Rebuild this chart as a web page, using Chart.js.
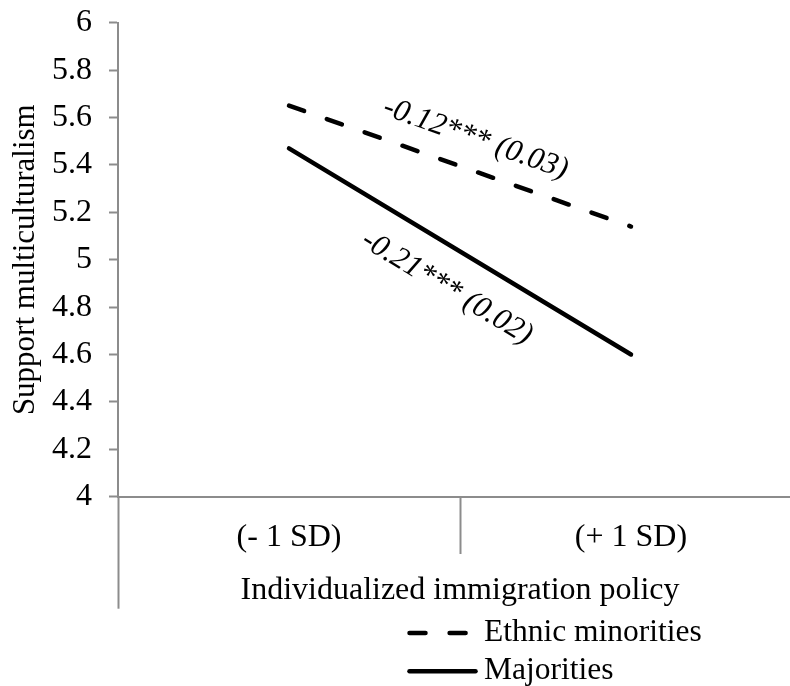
<!DOCTYPE html>
<html>
<head>
<meta charset="utf-8">
<script src="https://cdn.jsdelivr.net/npm/chart.js@4/dist/chart.umd.min.js"></script>
<style>
  html, body { margin: 0; padding: 0; background: #fff; overflow: hidden; }
  #wrap { width: 790px; height: 686px; overflow: hidden; }
  canvas { display: block; }
</style>
</head>
<body>
<div id="wrap"><canvas id="chart" width="810" height="686"></canvas></div>
<script>
// Simple slopes of support for multiculturalism
const categories = ['(- 1 SD)', '(+ 1 SD)'];
const minoritiesValues = [5.65, 5.14];
const majoritiesValues = [5.47, 4.60];
const seriesNames = ['Ethnic minorities', 'Majorities'];
const slopeLabels = ['-0.12*** (0.03)', '-0.21*** (0.02)'];
const yTickLabels = ['4', '4.2', '4.4', '4.6', '4.8', '5', '5.2', '5.4', '5.6', '5.8', '6'];
const yTitle = 'Support multiculturalism';
const xTitle = 'Individualized immigration policy';

const axisGray = '#8c8c8c';
const serif = '"Liberation Serif", "Times New Roman", Times, serif';

Chart.defaults.font.family = serif;
Chart.defaults.color = '#000';

// Rotated slope annotations placed along each line
const slopeLabelPlugin = {
  id: 'slopeLabels',
  afterDatasetsDraw(chart, args, opts) {
    const ctx = chart.ctx;
    opts.items.forEach((item, i) => {
      const pts = chart.getDatasetMeta(i).data;
      const a = pts[0], b = pts[pts.length - 1];
      const ang = Math.atan2(b.y - a.y, b.x - a.x);
      const ux = Math.cos(ang), uy = Math.sin(ang);
      const nx = -uy, ny = ux;
      const cx = (a.x + b.x) / 2 + item.along * ux + item.normal * nx;
      const cy = (a.y + b.y) / 2 + item.along * uy + item.normal * ny;
      ctx.save();
      ctx.translate(cx, cy);
      ctx.rotate(ang);
      ctx.font = opts.font;
      ctx.fillStyle = '#000';
      ctx.textAlign = 'center';
      ctx.textBaseline = 'middle';
      ctx.fillText(item.text, 0, 0);
      ctx.restore();
    });
  }
};

// Stacked legend below the axis title
const stackedLegendPlugin = {
  id: 'stackedLegend',
  afterDraw(chart, args, opts) {
    const ctx = chart.ctx;
    const base = chart.chartArea.bottom;
    chart.data.datasets.forEach((ds, i) => {
      const y = base + opts.rows[i];
      ctx.save();
      ctx.strokeStyle = ds.borderColor;
      ctx.lineWidth = ds.borderWidth;
      ctx.lineCap = ds.borderCapStyle || 'butt';
      ctx.setLineDash(ds.borderDash || []);
      ctx.beginPath();
      ctx.moveTo(opts.sampleX, y);
      ctx.lineTo(opts.sampleX + opts.sampleLength, y);
      ctx.stroke();
      ctx.setLineDash([]);
      ctx.font = opts.font;
      ctx.fillStyle = '#000';
      ctx.textAlign = 'left';
      ctx.textBaseline = 'middle';
      ctx.fillText(ds.label, opts.textX, y);
      ctx.restore();
    });
  }
};

new Chart(document.getElementById('chart'), {
  type: 'line',
  data: {
    labels: categories,
    datasets: [
      {
        label: seriesNames[0],
        data: minoritiesValues,
        borderColor: '#000',
        borderWidth: 4.5,
        borderDash: [16, 24.1],
        borderCapStyle: 'round',
        pointRadius: 0,
        fill: false,
        tension: 0
      },
      {
        label: seriesNames[1],
        data: majoritiesValues,
        borderColor: '#000',
        borderWidth: 4.5,
        borderCapStyle: 'round',
        pointRadius: 0,
        fill: false,
        tension: 0
      }
    ]
  },
  options: {
    responsive: false,
    animation: false,
    devicePixelRatio: 1,
    layout: { padding: { top: 22.7, right: 8, bottom: 0, left: 0 } },
    plugins: {
      legend: { display: false },
      tooltip: { enabled: false },
      slopeLabels: {
        font: 'italic 31px ' + serif,
        items: [
          { text: slopeLabels[0], along: 5.5, normal: -31 },
          { text: slopeLabels[1], along: 7.6, normal: 38 }
        ]
      },
      stackedLegend: {
        font: '31.5px ' + serif,
        rows: [136.3, 174.5],
        sampleX: 409.5,
        sampleLength: 66,
        textX: 484
      }
    },
    scales: {
      x: {
        type: 'category',
        offset: true,
        border: { display: true, color: axisGray, width: 2 },
        grid: {
          offset: true,
          drawOnChartArea: false,
          drawTicks: true,
          tickLength: 112,
          tickColor: axisGray,
          tickWidth: 2,
          tickBorderDash: (c) => (c.index === 1 ? [56, 1000] : [])
        },
        ticks: {
          color: '#000',
          font: { size: 32 },
          padding: -90,
          maxRotation: 0,
          autoSkip: false
        },
        title: {
          display: true,
          text: xTitle,
          color: '#000',
          font: { size: 32 },
          padding: { top: 0, bottom: 76 }
        },
        afterFit: (s) => { s.height = 189.3; }
      },
      y: {
        min: 4,
        max: 6,
        border: { display: true, color: axisGray, width: 2 },
        grid: {
          drawOnChartArea: false,
          drawTicks: true,
          tickLength: 9,
          tickColor: axisGray,
          tickWidth: 2
        },
        ticks: {
          stepSize: 0.2,
          color: '#000',
          font: { size: 32 },
          padding: 17,
          callback: (value, index) => yTickLabels[index]
        },
        title: {
          display: true,
          text: yTitle,
          color: '#000',
          font: { size: 31 },
          padding: { top: 7, bottom: 0 }
        },
        afterFit: (s) => {
          s.width = 118;
          s.paddingTop = 10;
          s.paddingBottom = 10;
        }
      }
    }
  },
  plugins: [slopeLabelPlugin, stackedLegendPlugin]
});
</script>
</body>
</html>
